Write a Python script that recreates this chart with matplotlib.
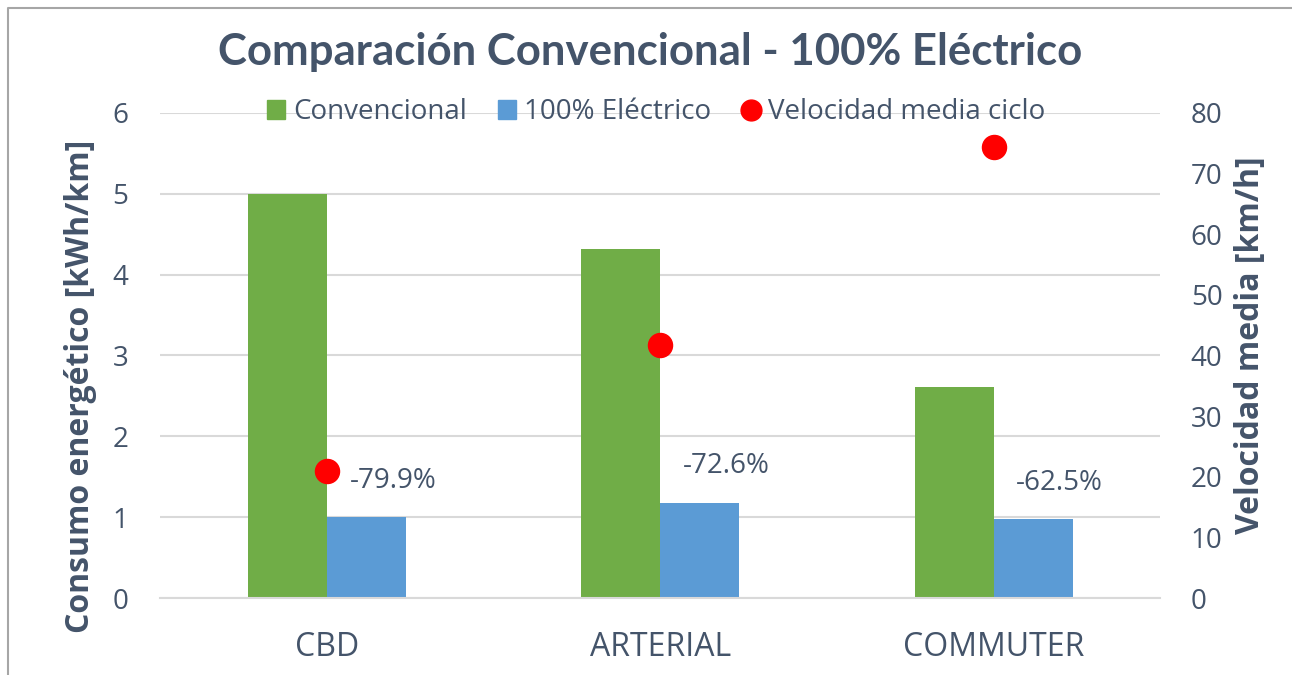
import matplotlib.pyplot as plt
import numpy as np
from matplotlib.lines import Line2D
from matplotlib.patches import Patch

plt.rcParams['font.family'] = ['Open Sans', 'DejaVu Sans']

ciclos = ['CBD', 'ARTERIAL', 'COMMUTER']
convencional = [5.0, 4.31, 2.61]
electrico = [1.005, 1.18, 0.98]
velocidad = [20.9, 41.7, 74.3]
etiquetas = ['-79.9%', '-72.6%', '-62.5%']

c_txt = '#44546A'
c_verde = '#70AD47'
c_azul = '#5B9BD5'
c_grid = '#D9D9D9'

fig = plt.figure(figsize=(12.92, 6.75), dpi=100)
ax = fig.add_axes([0.124, 0.114, 0.774, 0.719])
x = np.arange(len(ciclos))
w = 0.237

ax.bar(x - w / 2, convencional, w, color=c_verde, zorder=2)
ax.bar(x + w / 2, electrico, w, color=c_azul, zorder=2)
for xi, v, t in zip(x, electrico, etiquetas):
    ax.annotate(t, (xi + w / 2, v), xytext=(19, 26), textcoords='offset points',
                ha='center', va='center', fontsize=20, color=c_txt)

ax.set_xlim(-0.5, 2.5)
ax.set_ylim(0, 6)
ax.set_yticks(range(7))
ax.set_xticks(x)
ax.set_xticklabels(ciclos)
ax.grid(axis='y', color=c_grid, lw=1.5, zorder=0)
for s in ['top', 'right', 'left']:
    ax.spines[s].set_visible(False)
ax.spines['bottom'].set_color(c_grid)
ax.spines['bottom'].set_linewidth(1.5)
ax.tick_params(length=0, labelsize=20, colors=c_txt, pad=23)
ax.tick_params(axis='x', labelsize=23, pad=24)

ax2 = ax.twinx()
ax2.scatter(x, velocidad, s=300, color='#FF0000', zorder=3)
ax2.set_ylim(0, 80)
ax2.set_yticks(range(0, 81, 10))
for s in ax2.spines.values():
    s.set_visible(False)
ax2.tick_params(length=0, labelsize=20, colors=c_txt, pad=22)

fig.text(0.503, 0.923, 'Comparación Convencional - 100% Eléctrico', ha='center', va='center',
         fontsize=31.5, fontweight='bold', color=c_txt, family=['Lato', 'DejaVu Sans'])
fig.text(0.062, 0.428, 'Consumo energético [kWh/km]', rotation=90, ha='center', va='center',
         fontsize=23, fontweight='bold', color=c_txt)
fig.text(0.9675, 0.489, 'Velocidad media [km/h]', rotation=90, ha='center', va='center',
         fontsize=23, fontweight='bold', color=c_txt)

handles = [Patch(color=c_verde), Patch(color=c_azul),
           Line2D([], [], marker='o', ls='', color='#FF0000', markersize=15)]
fig.legend(handles, ['Convencional', '100% Eléctrico', 'Velocidad media ciclo'],
           loc='center', bbox_to_anchor=(0.508, 0.834), ncol=3, frameon=False,
           fontsize=20, labelcolor=c_txt, handlelength=0.65, handleheight=0.65,
           handletextpad=0.3, columnspacing=1.1)

fig.add_artist(Line2D([0.006, 0.006, 0.999], [0.0, 0.988, 0.988], color='#A6A6A6', lw=1.5))

fig.savefig('out.png', dpi=100)
